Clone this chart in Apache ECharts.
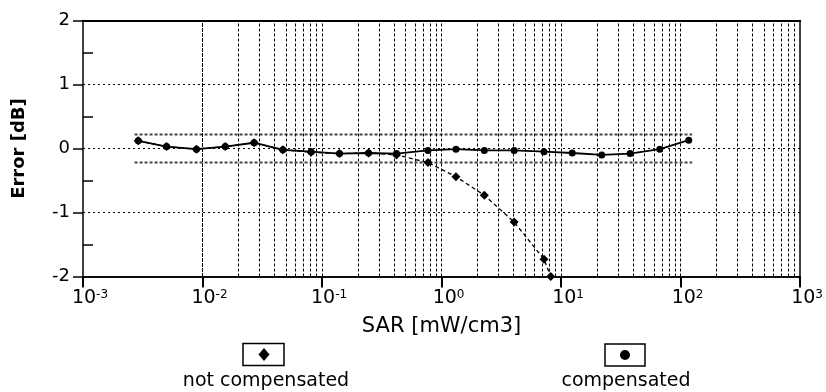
<!DOCTYPE html>
<html>
<head>
<meta charset="utf-8">
<script src="https://cdn.jsdelivr.net/npm/echarts@6/dist/echarts.min.js"></script>
<style>html,body{margin:0;padding:0;background:#fff}#c{width:826px;height:392px}</style>
</head>
<body>
<div id="c"></div>
<script>
// ---- data ----
const sarX = [0.0029, 0.0050, 0.0089, 0.0155, 0.027, 0.047, 0.081, 0.14, 0.245, 0.42,
              0.77, 1.32, 2.28, 4.05, 7.2, 12.4, 21.9, 37.8, 67, 117];
const compensated = [0.12, 0.03, -0.01, 0.03, 0.09, -0.02, -0.05, -0.08, -0.07, -0.08,
                     -0.03, -0.01, -0.03, -0.03, -0.05, -0.07, -0.10, -0.08, -0.01, 0.13];
const notCompX = [0.0029, 0.0050, 0.0089, 0.0155, 0.027, 0.047, 0.081, 0.14, 0.245, 0.42,
                  0.77, 1.32, 2.28, 4.05, 7.2, 8.2];
const notCompensated = [0.12, 0.03, -0.01, 0.03, 0.09, -0.02, -0.06, -0.08, -0.07, -0.10,
                        -0.22, -0.44, -0.73, -1.15, -1.73, -2.0];
const bandX = [0.0027, 0.01, 0.1, 1, 10, 125];
const bandUpper = [0.22, 0.22, 0.22, 0.22, 0.22, 0.22];
const bandLower = [-0.22, -0.22, -0.22, -0.22, -0.22, -0.22];
const xDecades = [0.001, 0.01, 0.1, 1, 10, 100, 1000];
const yMinorTicks = [-1.5, -0.5, 0.5, 1.5];
const seriesNames = ['not compensated', 'compensated'];

// vertical log grid lines (1..9 x 10^k)
const gridLinesX = [];
for (let k = -3; k < 3; k++) {
  for (let m = 1; m <= 9; m++) {
    const v = m * Math.pow(10, k);
    if (v > 0.001) gridLinesX.push(+v.toPrecision(3));
  }
}

const pairs = (xs, ys) => xs.map((x, i) => [x, ys[i]]);
const F = 'DejaVu Sans';
const black = {color: '#000', width: 1.5};

const chart = echarts.init(document.getElementById('c'), null, {renderer: 'canvas'});
chart.setOption({
  animation: false,
  backgroundColor: '#fff',
  grid: {left: 83, right: 21, top: 20.5, bottom: 115.5, show: false},
  xAxis: [{
    type: 'log', logBase: 10, min: 0.001, max: 1000, position: 'bottom',
    name: 'SAR [mW/cm3]', nameLocation: 'middle', nameGap: 40,
    nameTextStyle: {fontFamily: F, fontSize: 21, color: '#000'},
    axisLine: {show: true, onZero: true, onZeroAxisIndex: 3, lineStyle: black},
    axisTick: {show: true, inside: false, length: 11, lineStyle: {color: '#000', width: 2}},
    axisLabel: {
      margin: 12, padding: [0, 0, 0, 14], showMinLabel: true, showMaxLabel: true,
      formatter: v => '{b|10}{s|' + Math.round(Math.log10(v)) + '}',
      rich: {
        b: {fontFamily: F, fontSize: 19, color: '#000'},
        s: {fontFamily: F, fontSize: 12, color: '#000', verticalAlign: 'top', padding: [0, 0, 6, 0]}
      }
    },
    splitLine: {show: false}
  }, {
    type: 'log', logBase: 10, min: 0.001, max: 1000, position: 'top',
    axisLine: {show: true, onZero: false, lineStyle: {color: '#000', width: 2}},
    axisTick: {show: false}, axisLabel: {show: false}, splitLine: {show: false}
  }],
  yAxis: [{
    type: 'value', min: -2, max: 2, interval: 1,
    name: 'Error [dB]', nameLocation: 'middle', nameGap: 55,
    nameTextStyle: {fontFamily: F, fontSize: 18, fontWeight: 'bold', color: '#000'},
    axisLine: {show: true, onZero: false, lineStyle: black},
    axisTick: {show: true, length: 10, lineStyle: black},
    axisLabel: {fontFamily: F, fontSize: 18, color: '#000', margin: 13},
    splitLine: {show: true, lineStyle: {color: '#000', type: [2, 3], width: 1}}
  }, {
    type: 'value', min: -2, max: 2, position: 'right',
    axisLine: {show: true, onZero: false, lineStyle: black},
    axisTick: {show: false}, axisLabel: {show: false}, splitLine: {show: false}
  }, {
    type: 'value', min: -2, max: 2, position: 'left', offset: 0,
    axisLine: {show: false, onZero: false},
    axisTick: {show: true, inside: true, length: 10, customValues: yMinorTicks, lineStyle: black},
    axisLabel: {show: false},
    splitLine: {show: false}
  }, {
    type: 'value', min: 0, max: 4, position: 'left', offset: 0,
    axisLine: {show: false, onZero: false},
    axisTick: {show: false}, axisLabel: {show: false}, splitLine: {show: false}
  }],
  series: [
    {
      name: 'grid', type: 'line', data: [], silent: true,
      markLine: {
        silent: true, symbol: 'none', animation: false,
        label: {show: false},
        lineStyle: {color: '#000', type: [3, 2], width: 1},
        data: gridLinesX.map(v => ({xAxis: v}))
      }
    },
    {
      name: 'bottomAxis', type: 'line', data: [], silent: true, clip: false,
      markLine: {
        silent: true, symbol: 'none', animation: false,
        label: {show: false},
        lineStyle: {color: '#000', type: 'solid', width: 1.5},
        data: [{yAxis: -2}].concat(xDecades.map(v => [{coord: [v, -2]}, {coord: [v, -2.17]}]))
      }
    },
    {
      name: 'upper', type: 'line', data: pairs(bandX, bandUpper), showSymbol: false, silent: true,
      lineStyle: {color: '#444', type: [3, 2], width: 2}
    },
    {
      name: 'lower', type: 'line', data: pairs(bandX, bandLower), showSymbol: false, silent: true,
      lineStyle: {color: '#444', type: [3, 2], width: 2}
    },
    {
      name: seriesNames[0], type: 'line', data: pairs(notCompX, notCompensated),
      symbol: 'diamond', symbolSize: 9, itemStyle: {color: '#000'},
      lineStyle: {color: '#000', width: 1.3, type: [4, 3]}
    },
    {
      name: seriesNames[1], type: 'line', data: pairs(sarX, compensated),
      symbol: 'circle', symbolSize: 7, itemStyle: {color: '#000'},
      lineStyle: {color: '#000', width: 1.8}
    }
  ],
  graphic: [
    {type: 'rect', shape: {x: 243, y: 343.5, width: 41, height: 22}, style: {fill: '#fff', stroke: '#000', lineWidth: 1.5}},
    {type: 'polygon', shape: {points: [[264, 348], [269.5, 354.5], [264, 361], [258.5, 354.5]]}, style: {fill: '#000'}},
    {type: 'text', style: {text: seriesNames[0], x: 266, y: 381, align: 'center', verticalAlign: 'middle', font: '19px "DejaVu Sans"', fill: '#000'}},
    {type: 'rect', shape: {x: 605, y: 344, width: 40, height: 22}, style: {fill: '#fff', stroke: '#000', lineWidth: 1.5}},
    {type: 'circle', shape: {cx: 625, cy: 355, r: 5}, style: {fill: '#000'}},
    {type: 'text', style: {text: seriesNames[1], x: 626, y: 381, align: 'center', verticalAlign: 'middle', font: '19px "DejaVu Sans"', fill: '#000'}}
  ]
});
</script>
</body>
</html>
